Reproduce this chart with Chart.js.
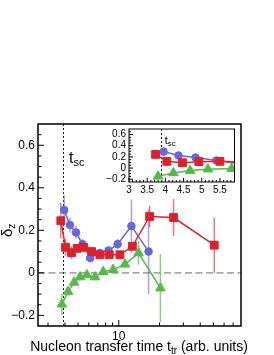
<!DOCTYPE html>
<html>
<head>
<meta charset="utf-8">
<script src="https://cdn.jsdelivr.net/npm/chart.js@4.4.1/dist/chart.umd.min.js"></script>
<style>
body { margin: 0; background: #fff; }
#wrap { position: relative; width: 274px; height: 355px; }
#main { position: absolute; left: 0; top: 0; }
#inset { position: absolute; left: 100px; top: 120px; }
</style>
</head>
<body>
<div id="wrap">
  <canvas id="main" width="274" height="355"></canvas>
  <canvas id="inset" width="141" height="80"></canvas>
</div>
<script>
// values
const redX = [3.73, 4.04, 4.47, 4.92, 5.5, 6.3, 7.25, 8.5, 10.2, 12.6, 16.9, 25.4, 50.8];
const redY = [0.245, 0.12, 0.095, 0.115, 0.12, 0.1, 0.085, 0.085, 0.085, 0.125, 0.265, 0.26, 0.13];
const redErr = [0.085, 0.04, 0.03, 0.02, 0.02, 0.02, 0.015, 0.015, 0.015, 0.02, 0.05, 0.087, 0.13];

const blueX = [3.95, 4.36, 4.83, 5.4, 6.15, 7.25, 8.4, 9.8, 12.4, 16.6];
const blueY = [0.295, 0.225, 0.19, 0.135, 0.07, 0.093, 0.105, 0.135, 0.22, 0.1];
const blueErr = [0.07, 0.035, 0.03, 0.025, 0.02, 0.02, 0.02, 0.025, 0.125, 0.2];

const greenX = [3.8, 4.22, 4.68, 5.17, 5.82, 6.67, 7.67, 9.08, 11.1, 14.0, 20.3];
const greenY = [-0.148, -0.088, -0.045, -0.02, -0.01, -0.02, 0.005, 0.015, 0.04, 0.093, -0.072];
const greenErr = [0.05, 0.02, 0.015, 0.015, 0.01, 0.01, 0.01, 0.01, 0.015, 0.055, 0.16];

const tSC = 3.87;

const mainXTicks = [10];
const mainXMinor = [3, 4, 5, 6, 7, 8, 9, 20, 30, 40, 50, 60, 70];
const yTicks = [-0.2, 0, 0.2, 0.4, 0.6];
const yMinor = [-0.15, -0.1, -0.05, 0.05, 0.1, 0.15, 0.25, 0.3, 0.35, 0.45, 0.5, 0.55, 0.65];
const insetXTicks = [3, 3.5, 4, 4.5, 5, 5.5];
const insetXMinor = [3.1, 3.2, 3.3, 3.4, 3.6, 3.7, 3.8, 3.9, 4.1, 4.2, 4.3, 4.4, 4.6, 4.7, 4.8, 4.9, 5.1, 5.2, 5.3, 5.4, 5.6, 5.7, 5.8];

const FONT = '"Liberation Sans", Arial, sans-serif';
const RED = 'rgb(222,32,42)', RED_E = 'rgba(222,32,42,0.6)';
const BLUE = 'rgb(102,102,222)', BLUE_E = 'rgba(102,102,222,0.6)';
const GREEN = 'rgb(86,184,72)', GREEN_E = 'rgba(86,184,72,0.7)';

function series(xs, ys, errs, color, errColor, style, r, order) {
    return {
        data: xs.map((x, i) => ({ x: x, y: ys[i] })),
        err: errs,
        errColor: errColor,
        borderColor: color,
        backgroundColor: color,
        pointBackgroundColor: color,
        pointBorderColor: color,
        pointBorderWidth: 1,
        pointStyle: style,
        pointRadius: r,
        borderWidth: 1.5,
        showLine: true,
        tension: 0,
        order: order
    };
}

function datasets() {
    return [
        series(redX, redY, redErr, RED, RED_E, 'rect', 5.5, 0),
        series(blueX, blueY, blueErr, BLUE, BLUE_E, 'circle', 3.8, 1),
        series(greenX, greenY, greenErr, GREEN, GREEN_E, 'triangle', 5.5, 2)
    ];
}

function fmtY(v) {
    if (Math.abs(v) < 1e-9) return '0';
    return (v < 0 ? '\u2212' : '') + Math.abs(v).toFixed(1);
}

// draws error bars, reference lines, frame, inward ticks and titles
function makeDecor(cfg) {
    return {
        id: 'decor',
        beforeDatasetsDraw(chart) {
            const { ctx, chartArea: a, scales: { x, y } } = chart;
            ctx.save();
            ctx.beginPath();
            ctx.rect(a.left, a.top, a.right - a.left, a.bottom - a.top);
            ctx.clip();
            if (cfg.zeroLine) {
                ctx.strokeStyle = '#a8a8a8';
                ctx.lineWidth = 1.8;
                ctx.setLineDash([7, 3.5]);
                const py = y.getPixelForValue(0);
                ctx.beginPath(); ctx.moveTo(a.left, py); ctx.lineTo(a.right, py); ctx.stroke();
            }
            ctx.strokeStyle = '#222';
            ctx.lineWidth = 1;
            ctx.setLineDash([2, 2]);
            const px = Math.round(x.getPixelForValue(tSC)) + 0.5;
            ctx.beginPath(); ctx.moveTo(px, a.top); ctx.lineTo(px, a.bottom); ctx.stroke();
            ctx.setLineDash([]);
            chart.data.datasets.forEach(ds => {
                ctx.strokeStyle = ds.errColor;
                ctx.lineWidth = 1.5;
                ds.data.forEach((p, i) => {
                    const ex = x.getPixelForValue(p.x);
                    ctx.beginPath();
                    ctx.moveTo(ex, y.getPixelForValue(p.y - ds.err[i]));
                    ctx.lineTo(ex, y.getPixelForValue(p.y + ds.err[i]));
                    ctx.stroke();
                });
            });
            ctx.restore();
        },
        afterDraw(chart) {
            const { ctx, chartArea: a, scales: { x, y } } = chart;
            ctx.save();
            ctx.strokeStyle = '#000';
            ctx.lineWidth = 1;
            ctx.beginPath();
            cfg.xMajor.forEach(v => { const p = x.getPixelForValue(v); ctx.moveTo(p, a.bottom); ctx.lineTo(p, a.bottom - cfg.major); });
            cfg.xMinor.forEach(v => { const p = x.getPixelForValue(v); ctx.moveTo(p, a.bottom); ctx.lineTo(p, a.bottom - cfg.minor); });
            yTicks.forEach(v => { const p = y.getPixelForValue(v); ctx.moveTo(a.left, p); ctx.lineTo(a.left + cfg.major, p); });
            yMinor.forEach(v => { const p = y.getPixelForValue(v); ctx.moveTo(a.left, p); ctx.lineTo(a.left + cfg.minor, p); });
            ctx.stroke();
            ctx.lineWidth = cfg.frame;
            ctx.strokeRect(a.left, a.top, a.right - a.left, a.bottom - a.top);

            // t_sc label next to the dotted line
            ctx.fillStyle = '#000';
            const tx = x.getPixelForValue(tSC) + cfg.tscDx;
            const ty = a.top + cfg.tscDy;
            ctx.textBaseline = 'alphabetic';
            ctx.textAlign = 'left';
            ctx.font = cfg.tSize + 'px ' + FONT;
            ctx.fillText('t', tx, ty);
            const tw = ctx.measureText('t').width;
            ctx.font = cfg.subSize + 'px ' + FONT;
            ctx.fillText('sc', tx + tw, ty + cfg.subDrop);

            if (cfg.titles) {
                // x title with subscript
                const big = '14px ' + FONT, small = '10px ' + FONT;
                const parts = [['Nucleon transfer time t', big, 0], ['tr', small, 3], [' (arb. units)', big, 0]];
                let total = 0;
                parts.forEach(p => { ctx.font = p[1]; total += ctx.measureText(p[0]).width; });
                let cx = 139 - total / 2;
                parts.forEach(p => {
                    ctx.font = p[1];
                    ctx.fillText(p[0], cx, 351 + p[2]);
                    cx += ctx.measureText(p[0]).width;
                });
                // y title: delta with subscript z
                ctx.translate(12, 237);
                ctx.rotate(-Math.PI / 2);
                ctx.font = '15px ' + FONT;
                ctx.fillText('\u03b4', 0, 0);
                const dw = ctx.measureText('\u03b4').width;
                ctx.font = '10px ' + FONT;
                ctx.fillText('z', dw, 3);
            }
            ctx.restore();
        }
    };
}

function axes(xType, xMin, xMax, xTickVals, xW, yW, fontSize, xPad) {
    return {
        x: {
            type: xType, min: xMin, max: xMax,
            grid: { display: false, drawTicks: false },
            border: { display: false },
            afterBuildTicks: s => { s.ticks = xTickVals.map(v => ({ value: v })); },
            afterFit: s => { s.height = xW; },
            ticks: { autoSkip: false, maxRotation: 0, padding: xPad, color: '#000',
                     font: { family: FONT, size: fontSize }, callback: v => String(v) }
        },
        y: {
            type: 'linear', min: -0.25, max: 0.7,
            grid: { display: false, drawTicks: false },
            border: { display: false },
            afterBuildTicks: s => { s.ticks = yTicks.map(v => ({ value: v })); },
            afterFit: s => { s.width = yW; },
            ticks: { autoSkip: false, padding: 3, color: '#000',
                     font: { family: FONT, size: fontSize }, callback: v => fmtY(v) }
        }
    };
}

new Chart(document.getElementById('main'), {
    type: 'scatter',
    data: { datasets: datasets() },
    options: {
        responsive: false,
        animation: false,
        layout: { padding: { top: 124, right: 33, left: 0, bottom: 0 } },
        plugins: { legend: { display: false }, tooltip: { enabled: false } },
        scales: axes('logarithmic', 2.53, 80, mainXTicks, 29, 38, 12, 3)
    },
    plugins: [makeDecor({
        zeroLine: true, xMajor: mainXTicks, xMinor: mainXMinor, major: 6, minor: 3.5, frame: 1.5,
        tscDx: 6, tscDy: 39, tSize: 16, subSize: 11, subDrop: 3, titles: true
    })]
});

new Chart(document.getElementById('inset'), {
    type: 'scatter',
    data: { datasets: datasets() },
    options: {
        responsive: false,
        animation: false,
        layout: { padding: { top: 8, right: 4, left: 0, bottom: 0 } },
        plugins: { legend: { display: false }, tooltip: { enabled: false } },
        scales: axes('linear', 3, 5.9, insetXTicks, 18, 29, 10, 2)
    },
    plugins: [makeDecor({
        zeroLine: false, xMajor: insetXTicks, xMinor: insetXMinor, major: 4, minor: 2, frame: 1,
        tscDx: 4, tscDy: 15, tSize: 11, subSize: 8, subDrop: 2, titles: false
    })]
});
</script>
</body>
</html>
